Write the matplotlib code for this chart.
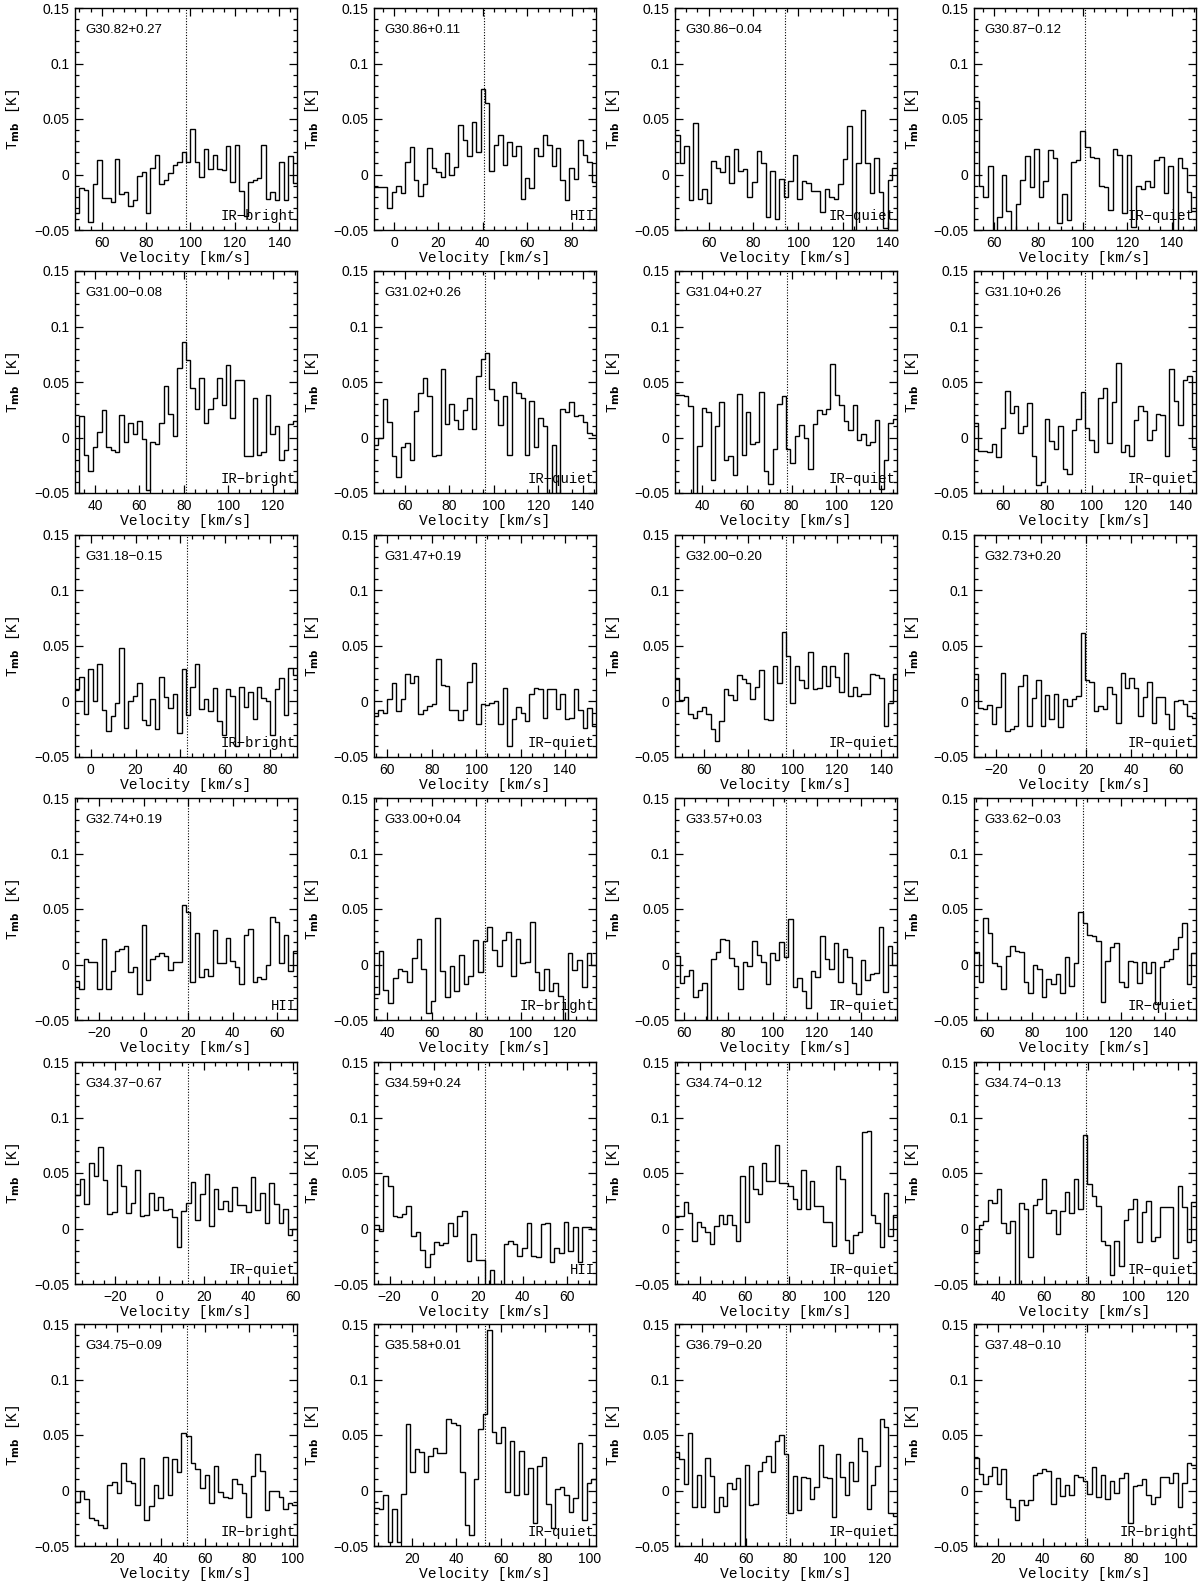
import numpy as np
import matplotlib
matplotlib.use("Agg")
import matplotlib.pyplot as plt
from matplotlib.ticker import MultipleLocator, FuncFormatter

# source names, classification, velocity window and v_lsr of each panel
sources = ["G30.82+0.27", "G30.86+0.11", "G30.86-0.04", "G30.87-0.12",
           "G31.00-0.08", "G31.02+0.26", "G31.04+0.27", "G31.10+0.26",
           "G31.18-0.15", "G31.47+0.19", "G32.00-0.20", "G32.73+0.20",
           "G32.74+0.19", "G33.00+0.04", "G33.57+0.03", "G33.62-0.03",
           "G34.37-0.67", "G34.59+0.24", "G34.74-0.12", "G34.74-0.13",
           "G34.75-0.09", "G35.58+0.01", "G36.79-0.20", "G37.48-0.10"]
classes = ["IR-bright", "HII", "IR-quiet", "IR-quiet",
           "IR-bright", "IR-quiet", "IR-quiet", "IR-quiet",
           "IR-bright", "IR-quiet", "IR-quiet", "IR-quiet",
           "HII", "IR-bright", "IR-quiet", "IR-quiet",
           "IR-quiet", "HII", "IR-quiet", "IR-quiet",
           "IR-bright", "IR-quiet", "IR-quiet", "IR-bright"]
v_lo = [48, -9, 45, 51, 31, 46, 28, 47, -7, 54, 47, -30,
        -31, 34, 56, 54, -38, -27, 29, 29, 1, 3, 28, 9]
v_hi = [148, 91, 144, 151, 131, 146, 127, 147, 92, 154, 147, 69,
        69, 134, 156, 154, 62, 73, 128, 128, 102, 103, 128, 109]
v_lsr = [98, 40.5, 94, 101, 81, 96, 78, 97, 43, 104, 97, 20,
         20, 84, 106, 103, 13, 23, 79, 79, 52, 53, 78, 59]

# Tmb [K] per channel
t01 = [-0.035, -0.012, -0.014, -0.043, -0.009, 0.013, -0.021, -0.021, -0.025, 0.014,
       -0.018, -0.016, -0.028, -0.023, -0.001, 0.002, -0.035, 0.006, 0.018, -0.009,
       -0.005, 0.001, 0.009, 0.011, 0.020, 0.011, 0.041, 0.011, -0.002, 0.023,
       0.005, 0.018, 0.005, 0.004, 0.026, -0.007, 0.027, -0.015, -0.037, -0.007,
       -0.005, -0.003, 0.027, -0.022, -0.016, -0.023, 0.011, -0.023, 0.017, -0.008]
t02 = [-0.011, -0.011, -0.011, -0.030, -0.016, -0.010, -0.017, 0.011, 0.025, -0.005,
       -0.019, -0.009, 0.024, 0.006, 0.002, -0.002, 0.019, 0.000, 0.007, 0.045,
       0.031, 0.017, 0.047, 0.020, 0.077, 0.064, 0.003, 0.027, 0.036, 0.009,
       0.029, 0.017, 0.026, -0.022, -0.003, -0.012, 0.024, 0.017, 0.036, 0.027,
       0.008, 0.024, -0.005, -0.023, 0.006, -0.004, 0.031, 0.018, 0.011, -0.007]
t03 = [0.036, 0.010, 0.026, -0.023, 0.046, -0.022, -0.013, -0.026, 0.012, 0.006,
       0.002, 0.017, -0.008, 0.023, 0.003, 0.005, -0.020, -0.007, 0.021, 0.010,
       -0.038, 0.003, -0.040, -0.004, -0.020, -0.006, 0.018, -0.022, -0.006, -0.008,
       -0.015, -0.015, -0.034, -0.013, -0.020, -0.022, -0.009, 0.014, 0.044, -0.050,
       0.010, 0.058, 0.010, -0.017, 0.015, -0.016, -0.048, -0.005, 0.006]
t04 = [0.066, -0.010, -0.020, 0.008, -0.060, -0.038, 0.000, -0.033, -0.060, -0.027,
       -0.005, 0.017, -0.011, 0.023, -0.020, -0.006, 0.022, 0.015, -0.044, -0.018,
       -0.041, 0.011, 0.013, 0.039, 0.025, 0.016, 0.015, -0.010, -0.011, -0.032,
       0.023, 0.018, -0.035, 0.018, -0.047, -0.010, -0.013, -0.006, -0.011, 0.013,
       0.016, -0.017, 0.008, -0.060, 0.015, 0.006, -0.016, -0.033]
t05 = [-0.050, 0.019, -0.016, -0.030, -0.009, 0.005, 0.025, -0.009, -0.011, -0.013,
       0.020, -0.004, 0.013, 0.003, 0.015, -0.001, -0.047, -0.004, -0.006, 0.013,
       0.046, 0.021, 0.001, 0.063, 0.086, 0.070, 0.045, 0.026, 0.054, 0.013,
       0.026, 0.036, 0.054, 0.029, 0.065, 0.018, 0.052, 0.052, -0.017, -0.017,
       0.036, -0.016, -0.013, 0.038, 0.003, 0.010, -0.020, -0.011, 0.012, 0.015]
t06 = [-0.007, 0.000, 0.035, 0.014, -0.017, -0.036, -0.009, -0.005, -0.020, 0.024,
       0.040, 0.054, 0.037, -0.017, -0.016, 0.062, 0.012, 0.030, 0.016, 0.008,
       0.025, 0.036, 0.008, 0.055, 0.071, 0.076, 0.044, 0.034, 0.011, 0.037,
       -0.016, 0.050, 0.040, 0.036, -0.016, 0.033, -0.009, 0.018, 0.010, -0.050,
       -0.007, -0.050, 0.026, 0.023, 0.032, 0.019, 0.020, 0.014, 0.004, 0.002]
t07 = [0.038, 0.038, 0.037, 0.028, -0.060, -0.008, 0.027, 0.023, -0.038, 0.010,
       0.032, -0.020, -0.017, -0.034, 0.039, -0.016, 0.023, -0.006, -0.004, 0.041,
       -0.030, -0.042, -0.010, 0.030, 0.037, -0.010, -0.023, 0.001, 0.011, 0.000,
       -0.028, 0.012, 0.025, 0.021, 0.026, 0.066, 0.038, 0.029, 0.015, 0.007,
       0.029, -0.002, 0.003, -0.007, -0.004, 0.016, -0.046, -0.020, 0.013, 0.017]
t08 = [0.013, -0.012, -0.012, -0.013, -0.006, -0.018, 0.009, 0.042, 0.022, 0.028,
       0.004, 0.010, 0.031, -0.017, -0.043, -0.040, 0.017, -0.003, -0.010, 0.010,
       -0.028, -0.033, 0.007, 0.017, 0.041, 0.009, -0.002, -0.013, 0.036, 0.045,
       -0.005, 0.032, 0.067, -0.013, -0.007, -0.017, 0.016, 0.028, 0.024, -0.002,
       0.007, 0.021, 0.020, -0.017, 0.062, 0.033, 0.011, 0.052, 0.055, -0.009]
t09 = [0.011, 0.022, -0.011, 0.029, 0.000, 0.034, -0.008, -0.027, -0.013, -0.001,
       0.048, -0.024, 0.000, 0.005, 0.017, -0.017, -0.021, 0.002, -0.025, 0.022,
       0.004, -0.006, 0.007, -0.028, 0.029, -0.012, 0.013, 0.034, -0.007, 0.002,
       -0.009, 0.012, -0.018, -0.030, 0.011, 0.005, -0.040, 0.013, -0.005, 0.009,
       -0.016, 0.013, 0.003, 0.000, -0.030, 0.011, 0.021, -0.012, 0.030, 0.024]
t10 = [-0.013, -0.008, -0.010, 0.002, 0.017, -0.009, 0.002, 0.025, 0.017, 0.023,
       -0.011, -0.008, -0.004, -0.002, 0.038, 0.015, 0.014, -0.008, -0.008, -0.017,
       -0.008, 0.018, 0.035, -0.020, -0.002, -0.003, -0.001, 0.000, -0.020, 0.012,
       -0.040, -0.016, -0.005, -0.010, -0.018, 0.007, 0.012, 0.011, -0.015, 0.011,
       0.011, -0.007, 0.007, -0.016, -0.015, 0.011, -0.008, -0.024, -0.006, -0.022]
t11 = [0.021, 0.001, 0.004, -0.011, -0.015, -0.009, -0.005, -0.011, -0.025, -0.036,
       -0.018, 0.011, 0.006, 0.001, 0.024, 0.020, 0.017, 0.002, 0.013, 0.028,
       -0.016, -0.017, 0.032, 0.017, 0.063, 0.041, -0.001, 0.032, 0.019, 0.012,
       0.045, 0.011, 0.012, 0.032, 0.014, 0.032, 0.022, 0.009, 0.044, 0.005,
       0.013, 0.005, 0.007, 0.007, 0.025, 0.024, 0.021, -0.022, -0.001, 0.025]
t12 = [0.025, -0.006, -0.007, -0.003, -0.020, -0.005, 0.026, -0.027, -0.025, -0.022,
       0.014, 0.024, -0.022, 0.003, 0.019, -0.022, 0.006, -0.016, 0.007, -0.023,
       0.002, -0.004, 0.002, 0.005, 0.062, 0.019, 0.018, -0.009, -0.004, -0.007,
       0.013, 0.007, -0.019, 0.026, 0.012, 0.021, 0.012, -0.013, 0.004, 0.018,
       -0.019, 0.004, 0.004, -0.011, -0.025, 0.000, 0.001, -0.002, -0.013, -0.015]
t13 = [-0.015, -0.022, 0.005, 0.002, 0.002, -0.022, 0.023, -0.022, -0.006, 0.012,
       0.014, 0.017, -0.007, -0.002, -0.027, 0.036, -0.014, 0.005, 0.008, 0.010,
       0.008, -0.005, 0.002, 0.002, 0.054, 0.047, -0.016, 0.028, -0.011, -0.004,
       -0.010, 0.031, 0.001, 0.001, 0.024, 0.003, -0.002, -0.018, 0.027, 0.032,
       -0.016, -0.011, -0.013, 0.000, 0.043, 0.038, 0.001, 0.027, -0.006, 0.012]
t14 = [-0.027, 0.012, -0.023, -0.035, -0.012, -0.004, -0.006, -0.016, 0.006, 0.023,
       -0.004, -0.044, -0.033, 0.042, -0.006, -0.029, -0.001, -0.024, 0.009, -0.018,
       -0.010, 0.022, -0.007, 0.021, 0.034, 0.013, -0.001, 0.022, 0.029, -0.010,
       0.023, 0.001, 0.002, 0.038, -0.007, -0.023, -0.004, -0.024, -0.017, -0.028,
       -0.050, 0.010, -0.005, 0.004, -0.020, 0.010, 0.000]
t15 = [0.008, -0.017, -0.010, -0.005, -0.029, -0.023, -0.017, -0.060, 0.005, 0.011,
       0.023, 0.022, 0.006, -0.001, -0.022, 0.002, -0.001, 0.021, 0.009, 0.002,
       -0.018, 0.010, 0.004, 0.020, 0.007, 0.041, -0.020, -0.012, -0.024, -0.039,
       -0.006, -0.011, 0.026, 0.005, -0.004, 0.019, -0.016, 0.014, 0.007, -0.017,
       -0.027, 0.004, -0.014, -0.009, -0.008, 0.034, -0.025, 0.017, 0.000]
t16 = [0.011, -0.016, 0.042, 0.028, 0.001, -0.001, -0.022, 0.008, 0.017, 0.012,
       0.011, -0.016, -0.026, 0.000, -0.004, -0.029, -0.013, -0.018, -0.009, -0.026,
       0.007, -0.019, 0.001, 0.047, 0.037, 0.027, 0.026, 0.021, -0.034, 0.003,
       0.016, 0.019, -0.016, -0.020, 0.003, 0.002, -0.017, 0.002, -0.008, 0.002,
       -0.036, -0.002, 0.003, 0.005, 0.014, 0.025, 0.037, -0.018, 0.010]
t17 = [0.030, 0.045, 0.022, 0.059, 0.047, 0.073, 0.044, 0.013, 0.015, 0.057,
       0.038, 0.014, 0.023, 0.053, 0.011, 0.012, 0.032, 0.017, 0.028, 0.017,
       0.018, 0.010, -0.017, 0.016, 0.023, 0.042, 0.008, 0.031, 0.049, 0.002,
       0.036, 0.018, 0.025, 0.016, 0.037, 0.021, 0.021, 0.015, 0.046, 0.017,
       0.032, 0.005, 0.041, 0.022, 0.005, 0.018, -0.006, 0.000]
t18 = [0.003, -0.002, 0.047, 0.038, 0.011, 0.010, 0.013, 0.020, -0.007, -0.003,
       -0.019, -0.035, -0.023, -0.012, -0.015, -0.013, 0.005, -0.007, 0.011, 0.016,
       -0.029, -0.005, -0.028, -0.028, -0.060, -0.037, -0.050, -0.060, -0.014, -0.011,
       -0.014, -0.025, -0.018, 0.005, -0.025, -0.026, 0.004, 0.005, -0.030, -0.018,
       -0.022, 0.006, -0.020, 0.001, -0.030, 0.001, 0.001, 0.000]
t19 = [0.011, 0.011, 0.024, 0.014, -0.011, 0.006, 0.001, -0.003, -0.014, 0.002,
       0.012, 0.004, 0.012, 0.003, -0.011, 0.047, 0.006, 0.056, 0.036, 0.031,
       0.059, 0.043, 0.043, 0.075, 0.041, 0.041, 0.038, 0.027, 0.018, 0.053,
       0.018, 0.043, 0.020, 0.020, 0.006, 0.006, -0.016, 0.056, 0.045, -0.010,
       -0.022, -0.006, -0.003, 0.087, 0.088, 0.012, 0.005, -0.017, 0.032, -0.007, 0.012]
t20 = [-0.022, 0.003, 0.007, 0.026, 0.023, 0.036, 0.005, -0.004, 0.007, -0.060,
       0.023, 0.018, -0.026, 0.021, 0.027, 0.045, 0.014, 0.017, -0.005, 0.016,
       0.033, 0.014, 0.045, 0.018, 0.084, 0.040, 0.029, 0.020, -0.011, -0.015,
       -0.042, -0.011, -0.034, 0.008, 0.018, 0.027, -0.012, 0.015, 0.025, -0.011,
       -0.008, 0.019, 0.019, 0.019, -0.027, 0.038, 0.019, -0.012, 0.024]
t21 = [-0.010, 0.000, -0.008, -0.025, -0.027, -0.031, -0.034, 0.005, 0.008, -0.002,
       0.025, 0.009, 0.007, -0.013, 0.029, -0.027, -0.014, 0.005, -0.007, 0.030,
       -0.004, 0.028, 0.017, 0.052, 0.049, 0.025, 0.019, 0.002, 0.014, -0.011,
       0.022, -0.001, -0.006, -0.007, 0.010, 0.006, -0.002, -0.024, 0.013, 0.033,
       0.018, -0.018, 0.000, 0.000, -0.006, -0.017, -0.011, -0.013]
t22 = [-0.016, -0.017, -0.004, -0.046, -0.017, -0.046, -0.003, 0.060, 0.017, 0.037,
       0.035, 0.017, 0.031, 0.038, 0.034, 0.034, 0.064, 0.061, 0.059, 0.017,
       -0.031, -0.040, 0.010, 0.055, 0.069, 0.145, 0.053, 0.043, 0.057, -0.001,
       0.045, -0.004, 0.036, -0.003, 0.020, -0.029, 0.022, 0.030, -0.012, -0.034,
       0.001, 0.003, -0.004, -0.019, -0.007, 0.043, -0.027, 0.007, 0.010]
t23 = [0.035, 0.028, 0.006, 0.052, -0.015, 0.014, -0.015, 0.029, 0.013, -0.019,
       -0.006, -0.014, 0.007, 0.001, 0.011, -0.060, 0.023, -0.013, -0.012, 0.018,
       0.026, 0.031, 0.017, 0.045, 0.050, 0.033, -0.020, 0.013, -0.018, 0.012,
       0.011, -0.008, 0.003, 0.041, 0.012, 0.011, -0.024, 0.033, 0.012, -0.004,
       0.026, 0.009, 0.047, 0.036, -0.017, 0.005, 0.022, 0.064, 0.057, -0.020, -0.023]
t24 = [0.029, 0.015, 0.006, 0.013, 0.021, 0.006, 0.019, -0.008, -0.015, -0.027,
       -0.009, -0.013, -0.009, 0.014, 0.016, 0.019, 0.018, -0.012, 0.011, -0.005,
       0.005, -0.004, 0.014, 0.012, 0.009, -0.003, 0.021, -0.006, 0.014, -0.008,
       0.009, -0.002, 0.011, 0.016, -0.029, 0.004, 0.005, 0.010, -0.004, -0.012,
       -0.006, 0.012, 0.012, 0.007, 0.016, -0.015, 0.007, 0.025, 0.023]

spectra = [t01, t02, t03, t04, t05, t06, t07, t08, t09, t10, t11, t12,
           t13, t14, t15, t16, t17, t18, t19, t20, t21, t22, t23, t24]


def ylab(v, pos):
    s = '%g' % round(v, 3)
    if s == '-0':
        s = '0'
    return s.replace('-', '\u2212')


W, H = 1200, 1581
fig = plt.figure(figsize=(W / 100, H / 100), dpi=100)

col_left = [75, 374, 675, 974]   # pixels
row_top = [8, 271, 535, 798, 1062, 1324]
ax_w, ax_h = 222, 222

mono = "Liberation Mono"
sans = "Liberation Sans"

for i in range(24):
    r, c = divmod(i, 4)
    ax = fig.add_axes([col_left[c] / W, (H - row_top[r] - ax_h) / H, ax_w / W, ax_h / H])
    vals = np.array(spectra[i])
    edges = np.linspace(v_lo[i], v_hi[i], len(vals) + 1)
    ax.stairs(vals, edges, color="black", lw=1.0, baseline=None)
    ax.axvline(v_lsr[i], color="black", lw=0.8, ls=(0, (1, 1.5)))

    ax.set_xlim(v_lo[i], v_hi[i])
    ax.set_ylim(-0.05, 0.15)
    ax.xaxis.set_major_locator(MultipleLocator(20))
    ax.xaxis.set_minor_locator(MultipleLocator(5))
    ax.yaxis.set_major_locator(MultipleLocator(0.05))
    ax.yaxis.set_minor_locator(MultipleLocator(0.01))
    ax.yaxis.set_major_formatter(FuncFormatter(ylab))
    ax.tick_params(which="both", direction="in", top=True, right=True, width=0.9)
    ax.tick_params(which="major", length=6, labelsize=10, pad=4)
    ax.tick_params(which="minor", length=3)
    for lab in ax.get_xticklabels() + ax.get_yticklabels():
        lab.set_family(sans)
    for sp in ax.spines.values():
        sp.set_linewidth(1.0)

    ax.set_xlabel("Velocity [km/s]", family=mono, fontsize=10.5, labelpad=1)
    ax.set_ylabel(r"T$_{\mathbf{mb}}$ [K]", family=mono, fontsize=10.5, labelpad=9)
    ax.text(0.045, 0.9, sources[i].replace('-', '\u2212'), transform=ax.transAxes,
            family=sans, fontsize=9.5, ha="left", va="center")
    ax.text(0.995, 0.03, classes[i].replace('-', '\u2212'), transform=ax.transAxes,
            family=mono, fontsize=10, ha="right", va="bottom")

fig.savefig("out.png", dpi=100)
